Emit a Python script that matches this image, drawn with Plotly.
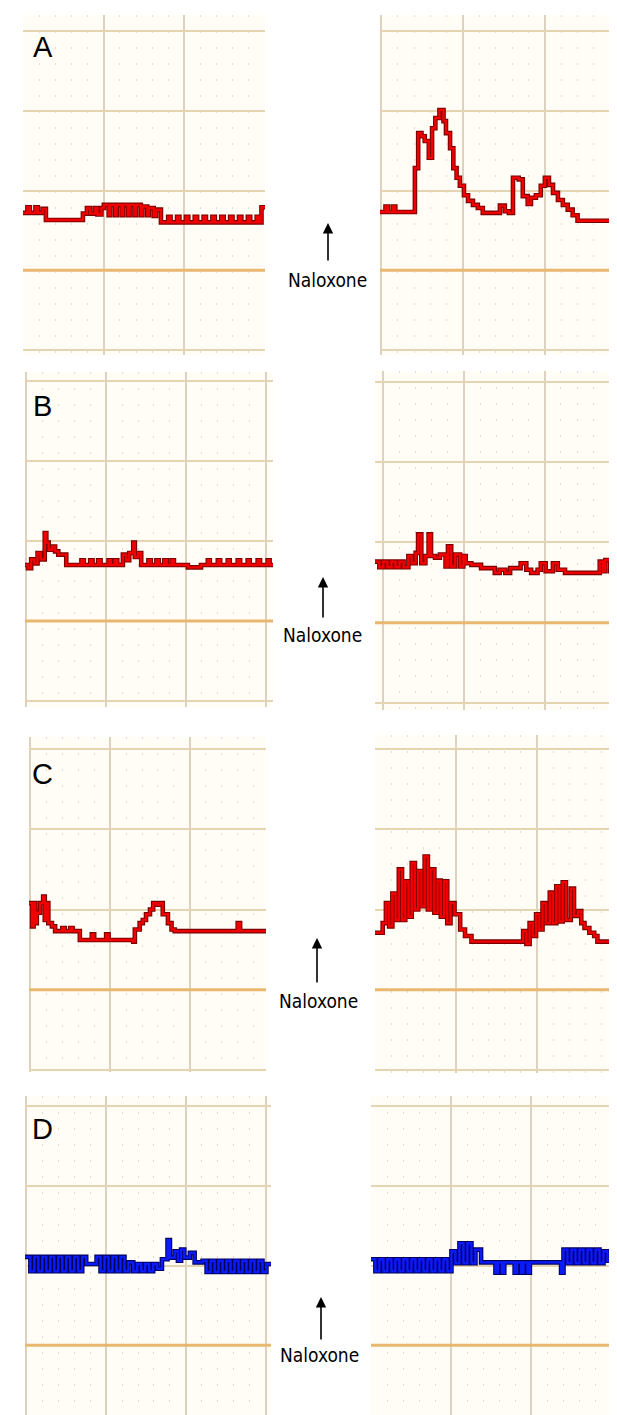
import plotly.graph_objects as go

# ---------------- data (time in grid tenths, amplitude in grid tenths) ----------------
A_L_t = [-0.2, 0.5, 0.8, 1.5, 1.8, 2.4, 2.8, 7.4, 7.9, 8.3, 8.9, 9.2, 9.7, 10.0, 10.6, 10.8, 11.4, 11.6,
         12.2, 12.4, 13.0, 13.2, 13.8, 14.0, 14.6, 14.8, 15.4, 15.6, 16.2, 16.5, 17.1, 18.0, 18.3, 19.1,
         19.4, 20.2, 20.5, 21.3, 21.6, 22.4, 22.7, 23.5, 23.8, 24.6, 24.9, 25.7, 26.0, 26.8, 27.1, 27.9,
         28.2, 29.0, 29.3, 29.6, 30.2]
A_L_v = [17.2, 17.9, 17.2, 17.9, 17.2, 17.7, 16.3, 17.1, 17.8, 17.1, 17.8, 17.0, 17.8, 18.2, 16.9, 18.2,
         16.9, 18.2, 16.9, 18.2, 16.9, 18.2, 16.9, 18.2, 16.9, 18.0, 16.9, 17.8, 16.8, 17.6, 16.0, 16.7,
         16.0, 16.7, 16.0, 16.7, 16.0, 16.7, 16.0, 16.7, 16.0, 16.7, 16.0, 16.7, 16.0, 16.7, 16.0, 16.7,
         16.0, 16.7, 16.0, 16.7, 16.0, 17.9, 17.9]

A_R_t = [-0.2, 0.5, 0.8, 1.4, 1.7, 4.1, 4.5, 4.9, 5.3, 5.8, 6.2, 6.6, 7.1, 7.6, 7.9, 8.4, 8.8, 9.2, 9.6,
         10.1, 10.6, 11.2, 11.8, 12.4, 14.5, 15.1, 15.6, 16.1, 16.8, 17.3, 17.9, 18.3, 18.9, 19.5, 20.0,
         20.5, 21.0, 21.6, 22.2, 22.8, 23.4, 24.0, 29.1, 29.9]
A_R_v = [17.3, 18.0, 17.3, 18.0, 17.3, 22.8, 27.2, 26.8, 26.2, 24.1, 27.8, 29.1, 30.1, 28.7, 27.2, 25.3,
         22.8, 21.6, 20.6, 19.4, 18.7, 18.2, 17.8, 17.2, 18.1, 17.4, 17.2, 21.6, 21.4, 19.3, 18.3, 19.1,
         19.4, 20.6, 21.6, 20.7, 19.7, 18.8, 18.2, 17.6, 16.9, 16.2, 17.6, 17.6]

B_L_t = [-0.2, 0.2, 0.6, 1.0, 1.4, 1.8, 2.3, 2.5, 2.8, 3.2, 3.6, 4.0, 5.0, 6.9, 7.2, 8.0, 8.3, 9.0, 9.3,
         10.3, 10.6, 11.1, 11.4, 12.1, 12.5, 12.9, 13.4, 13.6, 14.0, 14.4, 15.3, 15.6, 16.3, 16.6, 17.3,
         17.6, 18.2, 18.5, 20.25, 21.9, 22.75, 23.0, 24.0, 24.3, 25.25, 25.5, 26.5, 26.8, 27.75, 28.0,
         29.0, 29.3, 30.25, 30.5, 31.0]
B_L_v = [17.0, 16.6, 17.7, 17.2, 18.5, 17.7, 21.0, 19.8, 18.9, 19.3, 18.7, 18.3, 17.0, 17.6, 17.0, 17.6,
         17.0, 17.6, 17.0, 17.6, 17.0, 17.6, 17.0, 18.3, 17.6, 18.5, 19.8, 18.0, 18.5, 17.0, 17.6, 17.0,
         17.6, 17.0, 17.6, 17.0, 17.6, 17.0, 16.7, 17.0, 17.6, 17.0, 17.6, 17.0, 17.6, 17.0, 17.6, 17.0,
         17.6, 17.0, 17.6, 17.0, 17.6, 17.0, 17.0]

B_R_t = [-1.1, -0.5, 0.0, 0.5, 1.0, 1.5, 2.0, 2.5, 3.1, 3.5, 4.0, 4.3, 4.7, 5.2, 5.6, 5.9, 6.4, 7.0, 7.7,
         8.0, 8.4, 8.9, 9.5, 9.9, 10.2, 10.9, 12.1, 13.8, 14.4, 15.1, 15.7, 17.0, 17.7, 18.3, 19.1, 19.5,
         20.1, 21.0, 21.6, 22.5, 26.8, 27.2, 27.5, 28.1, 28.8, 29.2]
B_R_v = [17.6, 16.9, 17.6, 16.9, 17.6, 16.9, 17.6, 16.9, 18.3, 17.4, 18.7, 21.0, 17.4, 18.3, 21.0, 18.3,
         18.1, 18.5, 17.0, 19.5, 17.0, 18.5, 17.0, 18.3, 17.4, 17.2, 16.8, 16.2, 16.6, 16.2, 16.8, 17.4,
         16.6, 16.2, 16.6, 17.4, 16.4, 17.4, 16.6, 16.2, 17.6, 16.4, 17.8, 16.4, 17.6, 17.6]

C_L_t = [-0.2, 0.2, 0.4, 0.6, 0.8, 1.2, 1.6, 1.8, 2.0, 2.25, 2.7, 3.1, 4.0, 4.3, 5.0, 5.3, 6.2, 7.7, 8.0,
         9.5, 9.8, 12.9, 13.1, 13.7, 14.1, 14.5, 15.0, 15.4, 15.8, 16.2, 16.6, 17.25, 17.7, 18.1, 26.0,
         26.3, 29.6]
C_L_v = [20.8, 17.9, 20.8, 18.3, 19.6, 20.8, 21.6, 18.7, 20.8, 18.3, 17.9, 17.3, 17.7, 17.3, 17.7, 17.3,
         16.2, 16.9, 16.2, 16.9, 16.2, 16.0, 17.5, 18.3, 18.7, 19.4, 20.0, 20.8, 20.6, 20.8, 19.4, 18.3,
         17.5, 17.3, 18.3, 17.3, 17.3]

C_R_t = [-0.1, 0.9, 1.3, 1.7, 2.1, 2.5, 2.9, 3.3, 3.7, 4.1, 4.5, 4.9, 5.3, 5.7, 6.1, 6.5, 6.9, 7.3, 7.7,
         8.1, 8.5, 8.9, 9.3, 9.8, 10.5, 11.1, 11.9, 18.3, 18.7, 19.1, 19.5, 19.9, 20.3, 20.7, 21.1, 21.6,
         22.0, 22.4, 22.8, 23.2, 23.6, 24.2, 24.6, 25.1, 25.5, 25.9, 26.5, 27.1, 27.5, 30.4]
C_R_v = [17.1, 18.3, 20.8, 17.9, 22.0, 18.7, 25.0, 18.7, 23.5, 19.1, 25.8, 20.0, 24.8, 20.4, 26.6, 20.0,
         25.0, 19.6, 23.6, 19.1, 23.5, 18.3, 20.8, 19.4, 17.5, 16.7, 16.0, 17.3, 15.7, 18.3, 16.7, 19.4,
         17.5, 20.8, 18.3, 22.1, 18.3, 22.9, 18.5, 23.4, 18.7, 22.6, 19.2, 19.8, 18.3, 17.7, 17.1, 16.7,
         16.0, 16.0]

D_L_t = [-0.2, 0.5, 1.0, 1.5, 2.0, 2.5, 3.0, 3.5, 4.0, 4.5, 5.0, 5.5, 6.0, 6.5, 7.0, 7.5, 8.8, 9.3, 9.8,
         10.3, 10.8, 11.3, 11.8, 12.3, 12.8, 13.4, 13.9, 14.4, 14.9, 15.4, 15.9, 16.4, 17.0, 17.7, 18.0,
         18.6, 19.0, 19.4, 19.8, 20.5, 21.1, 22.1, 22.6, 23.1, 23.6, 24.1, 24.6, 25.1, 25.6, 26.1, 26.6,
         27.1, 27.6, 28.1, 28.6, 29.1, 29.6, 30.1, 30.8]
D_L_v = [21.1, 19.3, 21.1, 19.3, 21.1, 19.3, 21.1, 19.3, 21.1, 19.3, 21.1, 19.3, 21.1, 19.3, 21.1, 20.2,
         21.1, 19.3, 21.1, 19.3, 21.1, 19.3, 21.1, 19.3, 20.4, 19.3, 20.2, 19.3, 20.2, 19.3, 20.2, 19.6,
         20.8, 23.2, 21.0, 21.8, 20.6, 22.0, 21.0, 21.6, 20.4, 20.6, 19.2, 20.6, 19.2, 20.6, 19.2, 20.6,
         19.2, 20.6, 19.2, 20.6, 19.2, 20.6, 19.2, 20.6, 19.2, 20.2, 20.2]

D_R_t = [-0.1, 0.5, 1.0, 1.5, 2.0, 2.5, 3.0, 3.5, 4.0, 4.5, 5.0, 5.5, 6.0, 6.5, 7.0, 7.5, 8.0, 8.5, 9.0,
         9.5, 10.0, 10.5, 11.0, 11.5, 12.0, 12.5, 13.0, 13.7, 15.5, 15.8, 16.3, 16.6, 17.9, 18.2, 18.7,
         19.0, 19.5, 19.8, 23.7, 24.0, 24.5, 25.0, 25.5, 26.0, 26.5, 27.0, 27.5, 28.0, 28.5, 29.0, 29.5,
         30.4]
D_R_v = [20.8, 19.3, 20.8, 19.3, 20.8, 19.3, 20.8, 19.3, 20.8, 19.3, 20.8, 19.3, 20.8, 19.3, 20.8, 19.3,
         20.8, 19.3, 20.8, 19.3, 21.8, 20.3, 22.8, 20.3, 22.8, 20.3, 22.0, 20.4, 19.1, 20.4, 19.1, 20.4,
         19.1, 20.4, 19.1, 20.4, 19.1, 20.4, 19.1, 22.0, 20.3, 22.0, 20.3, 22.0, 20.3, 22.0, 20.3, 22.0,
         20.3, 21.8, 20.6, 20.6]

row_labels = ["A", "B", "C", "D"]
marker_text = "Naloxone"

# ---------------- layout geometry (pixels) ----------------
W, H = 617, 1415
RED = ("#7a0000", "#f00000")
BLUE = ("#00005a", "#0a1cff")

panels = [
    dict(t=A_L_t, v=A_L_v, box=(15, 257, 7, 347), g0=15, ux=8.07, z=342, uy=7.975, col=RED),
    dict(t=A_R_t, v=A_R_v, box=(372, 617, 7, 347), g0=373, ux=8.2, z=342, uy=7.975, col=RED),
    dict(t=B_L_t, v=B_L_v, box=(17, 265, 364, 699), g0=18, ux=8.0, z=693, uy=8.0, col=RED),
    dict(t=B_R_t, v=B_R_v, box=(367, 610, 363, 702), g0=375, ux=8.1, z=695, uy=8.03, col=RED),
    dict(t=C_L_t, v=C_L_v, box=(21, 258, 729, 1064), g0=22, ux=8.0, z=1062, uy=8.025, col=RED),
    dict(t=C_R_t, v=C_R_v, box=(367, 612, 727, 1065), g0=367, ux=8.1, z=1062, uy=8.025, col=RED),
    dict(t=D_L_t, v=D_L_v, box=(17, 263, 1088, 1415), g0=18, ux=8.0, z=1417, uy=7.97, col=BLUE),
    dict(t=D_R_t, v=D_R_v, box=(363, 606, 1088, 1415), g0=363, ux=8.03, z=1417, uy=7.97, col=BLUE),
]

fig = go.Figure()
shapes = []
for i, p in enumerate(panels, start=1):
    sx = "" if i == 1 else str(i)
    xa, ya = "x" + sx, "y" + sx
    x0, x1, yt, yb = p["box"]
    xr = [(x0 - p["g0"]) / p["ux"] - 0.05, (x1 - p["g0"]) / p["ux"] + 0.05]
    yr = [(p["z"] - yb) / p["uy"], (p["z"] - yt) / p["uy"]]
    dark, core = p["col"]
    fig.add_trace(go.Scatter(x=p["t"], y=p["v"], xaxis=xa, yaxis=ya, mode="lines",
                             line=dict(color=dark, width=4.6, shape="hv"),
                             hoverinfo="skip", showlegend=False))
    fig.add_trace(go.Scatter(x=p["t"], y=p["v"], xaxis=xa, yaxis=ya, mode="lines",
                             line=dict(color=core, width=2.4, shape="hv"),
                             hoverinfo="skip", showlegend=False))
    common = dict(showticklabels=False, ticks="", zeroline=False, showline=False,
                  fixedrange=True, tick0=0, dtick=10, showgrid=True, gridwidth=1.5)
    fig.layout["xaxis" + sx] = dict(domain=[x0 / W, x1 / W], range=xr, anchor=ya,
                                    gridcolor="#ddd2bf",
                                    minor=dict(dtick=2, showgrid=True, gridcolor="#d9dbe3",
                                               gridwidth=1, griddash="2px,14px"),
                                    **common)
    fig.layout["yaxis" + sx] = dict(domain=[1 - yb / H, 1 - yt / H], range=yr, anchor=xa,
                                    gridcolor="#e4d4b2", **common)
    shapes.append(dict(type="line", xref=xa + " domain", yref=ya, x0=0, x1=1, y0=10, y1=10,
                       line=dict(color="#e8b870", width=3), layer="above"))

annotations = []
label_pos = [(23, 39), (23, 398), (22, 766), (22, 1121)]
for lab, (lx, ly) in zip(row_labels, label_pos):
    annotations.append(dict(x=lx / W, y=1 - ly / H, xref="paper", yref="paper", text=lab,
                            showarrow=False, xanchor="left", yanchor="middle",
                            font=dict(family="Liberation Sans, Arial", size=29, color="black")))

arrows = [(320, 215, 39, 272), (315, 569, 42, 627), (309, 930, 46, 993), (313, 1289, 44, 1347)]
text_x = [319, 314, 310, 311]
for (ax_, tip, length, ty), tx in zip(arrows, text_x):
    annotations.append(dict(x=ax_ / W, y=1 - tip / H, xref="paper", yref="paper", text="",
                            showarrow=True, ax=0, ay=length, arrowhead=2, arrowsize=1.3,
                            arrowwidth=1.6, arrowcolor="black", standoff=0, startstandoff=0))
    annotations.append(dict(x=tx / W, y=1 - ty / H, xref="paper", yref="paper", text=marker_text,
                            showarrow=False, xanchor="center", yanchor="middle",
                            font=dict(family="DejaVu Sans Condensed, DejaVu Sans", size=19,
                                      color="black")))

fig.update_layout(width=W, height=H, margin=dict(l=0, r=0, t=0, b=0),
                  paper_bgcolor="white", plot_bgcolor="#fffdf5",
                  shapes=shapes, annotations=annotations, showlegend=False)

fig.write_html("out.html")
